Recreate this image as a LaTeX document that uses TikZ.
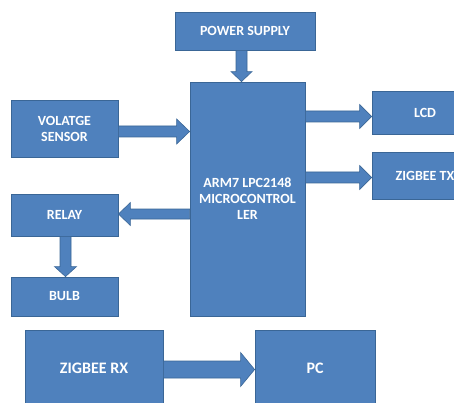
\documentclass[tikz,border=0pt]{standalone}
\usepackage{fontspec}
\setmainfont{Carlito}[BoldFont={Carlito Bold}]
\usetikzlibrary{calc}
\definecolor{boxfill}{HTML}{4F81BD}
\definecolor{boxline}{HTML}{3A6696}
\tikzset{
  blk/.style={draw=boxline, fill=boxfill, line width=0.8pt, inner sep=0pt,
    text=white, font=\bfseries\fontsize{14}{16}\selectfont, align=center},
  bigblk/.style={blk, font=\bfseries\fontsize{16}{18}\selectfont},
  barrow/.style={draw=boxline, fill=boxfill, line width=0.6pt, line join=miter}
}
% right-pointing block arrow: #1 start, #2 end, #3 shaft half, #4 head half, #5 head length
\newcommand\arrR[5]{\path[barrow] let \p1=(#1), \p2=(#2) in
  (\x1,\y1+#3) -- (\x2-#5,\y1+#3) -- (\x2-#5,\y1+#4) -- (\x2,\y1) --
  (\x2-#5,\y1-#4) -- (\x2-#5,\y1-#3) -- (\x1,\y1-#3) -- cycle;}
\newcommand\arrL[5]{\path[barrow] let \p1=(#1), \p2=(#2) in
  (\x1,\y1+#3) -- (\x2+#5,\y1+#3) -- (\x2+#5,\y1+#4) -- (\x2,\y1) --
  (\x2+#5,\y1-#4) -- (\x2+#5,\y1-#3) -- (\x1,\y1-#3) -- cycle;}
\newcommand\arrD[5]{\path[barrow] let \p1=(#1), \p2=(#2) in
  (\x1+#3,\y1) -- (\x1+#3,\y2+#5) -- (\x1+#4,\y2+#5) -- (\x1,\y2) --
  (\x1-#4,\y2+#5) -- (\x1-#3,\y2+#5) -- (\x1-#3,\y1) -- cycle;}
\begin{document}
\begin{tikzpicture}[x=1pt,y=-1pt]
\useasboundingbox (0,0) rectangle (454,403);
\clip (0,0) rectangle (454,403);
\fill[white] (0,0) rectangle (454,403);
\node[blk, minimum width=140pt, minimum height=38pt] (power) at (245,31) {POWER SUPPLY};
\node[blk, minimum width=115pt, minimum height=234pt] (mcu) at (247.5,199) {ARM7 LPC2148\\MICROCONTROL\\LER};
\node[blk, minimum width=107pt, minimum height=57pt] (sensor) at (64.5,128.5) {VOLATGE\\SENSOR};
\node[blk, minimum width=106pt, minimum height=43pt] (lcd) at (425,112.5) {LCD};
\node[blk, minimum width=106pt, minimum height=47pt] (ztx) at (425,175.5) {ZIGBEE TX};
\node[blk, minimum width=107pt, minimum height=42pt] (relay) at (64.5,215) {RELAY};
\node[blk, minimum width=107pt, minimum height=39pt] (bulb) at (64.5,296.5) {BULB};
\node[bigblk, minimum width=138pt, minimum height=76pt] (zrx) at (94,368) {ZIGBEE RX};
\node[bigblk, minimum width=120pt, minimum height=76pt] (pc) at (315,368) {PC};
% connector end points
\coordinate (p1) at (power.south -| 241.5,0);
\coordinate (p2) at (mcu.north -| 241.5,0);
\coordinate (s1) at (sensor.east |- 0,131.5);
\coordinate (s2) at (mcu.west |- 0,131.5);
\coordinate (l1) at (mcu.east |- 0,116.5);
\coordinate (l2) at (lcd.west |- 0,116.5);
\coordinate (t1) at (mcu.east |- 0,177.5);
\coordinate (t2) at (ztx.west |- 0,177.5);
\coordinate (r1) at (mcu.west |- 0,214);
\coordinate (r2) at (relay.east |- 0,214);
\coordinate (b1) at (relay.south -| 65.5,0);
\coordinate (b2) at (bulb.north -| 65.5,0);
\coordinate (z1) at (zrx.east |- 0,369.5);
\coordinate (z2) at (pc.west |- 0,369.5);
\arrD{p1}{p2}{5.5pt}{10.5pt}{10pt}
\arrR{s1}{s2}{5.5pt}{12.5pt}{13pt}
\arrR{l1}{l2}{5.5pt}{12pt}{12pt}
\arrR{t1}{t2}{5.5pt}{12pt}{12pt}
\arrL{r1}{r2}{5pt}{11.5pt}{12pt}
\arrD{b1}{b2}{5.5pt}{11pt}{10pt}
\arrR{z1}{z2}{8.5pt}{17pt}{14pt}
\end{tikzpicture}
\end{document}
